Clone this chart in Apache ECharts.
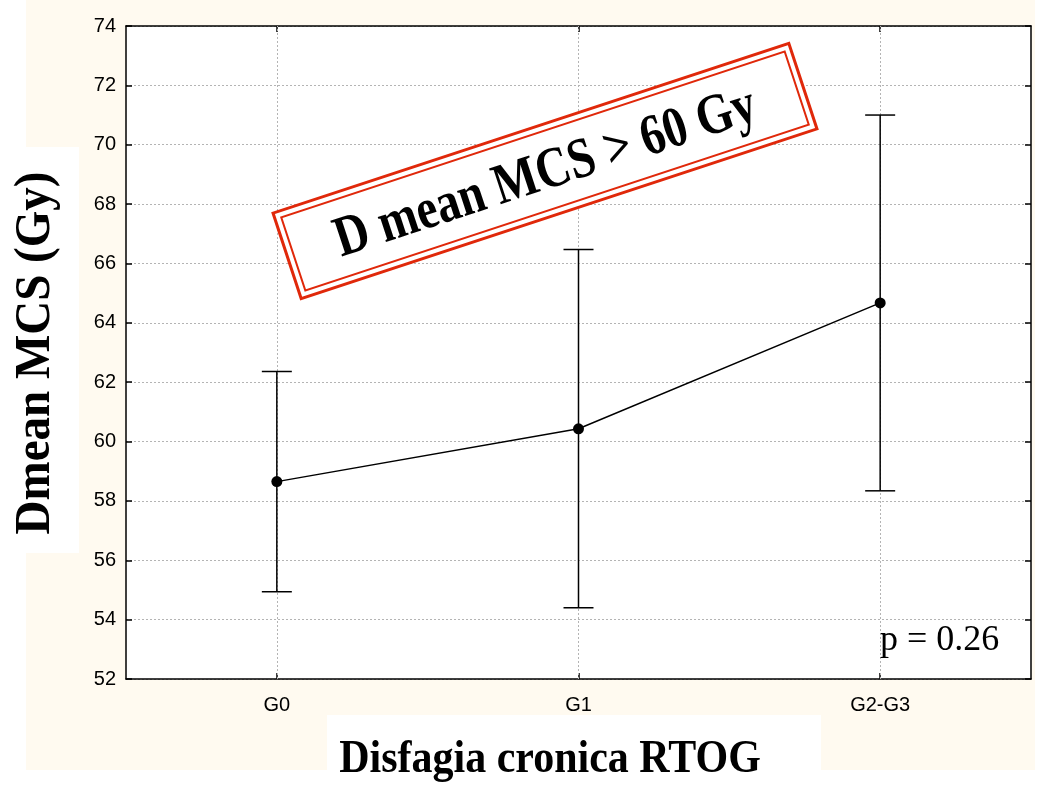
<!DOCTYPE html>
<html><head><meta charset="utf-8">
<script src="https://cdn.jsdelivr.net/npm/echarts@6/dist/echarts.min.js"></script>
<style>html,body{margin:0;padding:0;background:#fff}#c{width:1037px;height:787px}</style>
</head><body><div id="c"></div>
<script>
const categories = ['G0', 'G1', 'G2-G3'];
const meanValues = [58.65, 60.43, 64.67];
const lowerValues = [54.94, 54.40, 58.34];
const upperValues = [62.36, 66.47, 71.00];
const yMin = 52, yMax = 74, yInterval = 2;
const xTitle = 'Disfagia cronica RTOG';
const yTitle = 'Dmean MCS (Gy)';
const boxText = 'D mean MCS > 60 Gy';
const pText = 'p = 0.26';

const chart = echarts.init(document.getElementById('c'), null, {renderer: 'canvas'});
const black = '#000';
const gridColor = '#b4b4b4';
const cream = '#fffaf0';
const red = '#e0280a';
const lineAxis = {lineStyle: {color: black, width: 1.5}};
const tickIn = {show: true, inside: true, length: 6, lineStyle: {color: black, width: 1.5}};
const tickFont = {fontFamily: 'Liberation Sans', fontSize: 20, color: '#000'};

const option = {
  backgroundColor: '#fff',
  animation: false,
  grid: {left: 126, top: 26, right: 6, bottom: 108, show: true, backgroundColor: '#fff', borderWidth: 0},
  xAxis: [
    {type: 'category', data: categories, boundaryGap: true, position: 'bottom',
     axisLine: lineAxis, axisTick: Object.assign({alignWithLabel: true}, tickIn),
     axisLabel: Object.assign({margin: 16}, tickFont), splitLine: {show: false}},
    {type: 'category', data: categories, boundaryGap: true, position: 'top',
     axisLine: lineAxis, axisTick: Object.assign({alignWithLabel: true}, tickIn),
     axisLabel: {show: false}, splitLine: {show: false}}
  ],
  yAxis: [
    {type: 'value', min: yMin, max: yMax, interval: yInterval, position: 'left',
     axisLine: Object.assign({show: true}, lineAxis), axisTick: tickIn,
     axisLabel: Object.assign({margin: 10}, tickFont),
     splitLine: {show: true, lineStyle: {color: gridColor, type: [2, 2], width: 1}}},
    {type: 'value', min: yMin, max: yMax, interval: yInterval, position: 'right',
     axisLine: Object.assign({show: true}, lineAxis), axisTick: tickIn,
     axisLabel: {show: false}, splitLine: {show: false}}
  ],
  series: [
    {
      type: 'custom',
      xAxisIndex: 0, yAxisIndex: 0,
      data: categories.map((c, i) => [i, lowerValues[i], upperValues[i]]),
      encode: {x: 0, y: [1, 2]},
      z: 3,
      renderItem: function (params, api) {
        const x = api.value(0), lo = api.value(1), hi = api.value(2);
        const pLo = api.coord([x, lo]);
        const pHi = api.coord([x, hi]);
        const hw = 15;
        const style = {stroke: black, lineWidth: 1.5, fill: null};
        return {type: 'group', children: [
          {type: 'line', shape: {x1: pLo[0], y1: pLo[1], x2: pHi[0], y2: pHi[1]}, style: style},
          {type: 'line', shape: {x1: pLo[0] - hw, y1: pLo[1], x2: pLo[0] + hw, y2: pLo[1]}, style: style},
          {type: 'line', shape: {x1: pHi[0] - hw, y1: pHi[1], x2: pHi[0] + hw, y2: pHi[1]}, style: style}
        ]};
      }
    },
    {
      type: 'line',
      xAxisIndex: 0, yAxisIndex: 0,
      data: meanValues,
      z: 4,
      symbol: 'circle', symbolSize: 11,
      itemStyle: {color: black},
      lineStyle: {color: black, width: 1.5},
      markLine: {
        silent: true, symbol: 'none', animation: false,
        label: {show: false},
        lineStyle: {color: gridColor, type: [2, 2], width: 1},
        z: 1,
        data: categories.map(c => ({xAxis: c}))
      }
    }
  ],
  graphic: {elements: [
    {type: 'rect', z: -100, silent: true, shape: {x: 26, y: 0, width: 1009, height: 770}, style: {fill: cream}},
    {type: 'rect', z: -99, silent: true, shape: {x: 0, y: 147, width: 79, height: 406}, style: {fill: '#fff'}},
    {type: 'rect', z: -99, silent: true, shape: {x: 327, y: 715, width: 494, height: 72}, style: {fill: '#fff'}},
    {type: 'text', z: 100, x: 36, y: 353, rotation: Math.PI / 2, scaleY: 1.1,
     style: {text: yTitle, font: 'bold 47px "Liberation Serif"', fill: black, align: 'center', verticalAlign: 'middle'}},
    {type: 'text', z: 100, x: 550, y: 760, scaleY: 1.1,
     style: {text: xTitle, font: 'bold 42px "Liberation Serif"', fill: black, align: 'center', verticalAlign: 'middle'}},
    {type: 'text', z: 100, x: 880, y: 641,
     style: {text: pText, font: '36px "Liberation Serif"', fill: black, align: 'left', verticalAlign: 'middle'}},
    {type: 'group', z: 100, x: 545, y: 171, rotation: 0.318, children: [
      {type: 'rect', z: 100, shape: {x: -271.5, y: -45, width: 543, height: 90}, style: {fill: '#fff', stroke: red, lineWidth: 3}},
      {type: 'rect', z: 101, shape: {x: -265, y: -38.5, width: 530, height: 77}, style: {fill: null, stroke: red, lineWidth: 2}},
      {type: 'text', z: 102, x: 0, y: 3, scaleY: 1.22,
       style: {text: boxText, font: 'bold 47px "Liberation Serif"', fill: black, align: 'center', verticalAlign: 'middle'}}
    ]}
  ]}
};
chart.setOption(option);
</script>
</body></html>
